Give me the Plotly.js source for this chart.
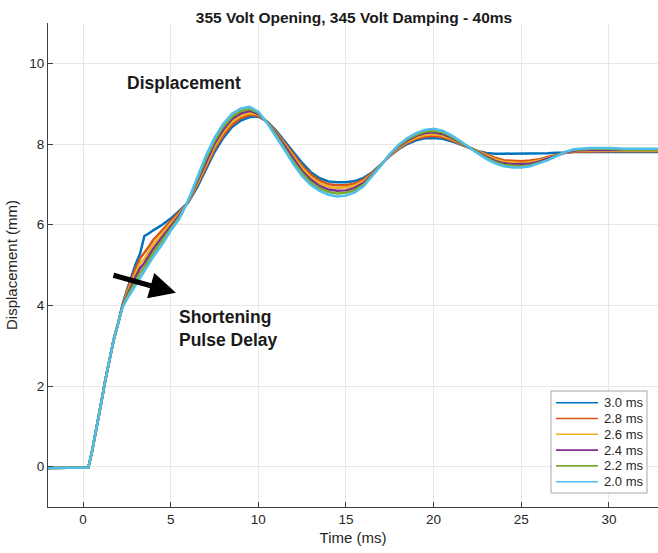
<!DOCTYPE html>
<html>
<head>
<meta charset="utf-8">
<script src="https://cdn.plot.ly/plotly-3.0.1.min.js"></script>
<style>html,body{margin:0;padding:0;background:#fff;}#chart{width:658px;height:553px;}</style>
</head>
<body>
<div id="chart"></div>
<script>
// ---- data ----
const timeMs = [-2,-1,0,0.3,0.5,0.75,1,1.25,1.5,1.75,2,2.25,2.5,2.75,3,3.25,3.5,3.75,4,4.5,5,5.5,6,6.5,7,7.5,8,8.5,9,9.5,10,10.5,11,11.5,12,12.5,13,13.5,14,14.5,15,15.5,16,16.5,17,17.5,18,18.5,19,19.5,20,20.5,21,21.5,22,22.5,23,23.5,24,24.5,25,25.5,26,26.5,27,27.5,28,29,30,31,32,33];
const riseCommon = [-0.03,-0.03,-0.03,-0.02,0.35,0.9,1.5,2.1,2.65,3.15,3.55];
const seriesNames = ['3.0 ms','2.8 ms','2.6 ms','2.4 ms','2.2 ms','2.0 ms'];
const seriesColors = ['#0072BD','#D95319','#EDB120','#7E2F8E','#77AC30','#4DBEEE'];
const disp30 = [4.02,4.38,4.72,5.02,5.28,5.72,5.78,5.86,5.99,6.15,6.35,6.55,6.92,7.35,7.8,8.15,8.42,8.58,8.67,8.68,8.56,8.34,8.07,7.8,7.53,7.3,7.15,7.07,7.05,7.05,7.08,7.16,7.3,7.5,7.7,7.87,8.0,8.09,8.14,8.15,8.13,8.07,7.99,7.9,7.83,7.78,7.76,7.76,7.76,7.76,7.76,7.76,7.77,7.78,7.78,7.8,7.8,7.8,7.8,7.8,7.8];
const disp28 = [4.0,4.33,4.64,4.92,5.16,5.3,5.45,5.62,5.86,6.09,6.31,6.56,6.97,7.42,7.87,8.22,8.48,8.64,8.72,8.7,8.55,8.31,8.03,7.74,7.46,7.24,7.09,7.0,6.98,6.98,7.02,7.12,7.28,7.49,7.71,7.89,8.03,8.13,8.18,8.2,8.17,8.1,8.01,7.9,7.82,7.75,7.66,7.6,7.58,7.57,7.59,7.62,7.68,7.73,7.78,7.81,7.82,7.82,7.82,7.82,7.82];
const disp26 = [3.99,4.29,4.56,4.81,5.04,5.15,5.33,5.5,5.76,6.03,6.27,6.57,7.01,7.49,7.94,8.29,8.55,8.7,8.77,8.73,8.54,8.28,7.98,7.68,7.4,7.17,7.03,6.94,6.91,6.92,6.97,7.08,7.26,7.49,7.72,7.91,8.06,8.16,8.22,8.24,8.21,8.13,8.03,7.91,7.81,7.72,7.62,7.56,7.54,7.53,7.55,7.59,7.65,7.72,7.79,7.83,7.84,7.84,7.83,7.83,7.83];
const disp24 = [3.98,4.24,4.49,4.71,4.92,5.05,5.22,5.4,5.68,5.97,6.23,6.58,7.06,7.56,8.01,8.36,8.62,8.76,8.82,8.75,8.54,8.26,7.94,7.62,7.33,7.11,6.96,6.87,6.84,6.85,6.91,7.03,7.24,7.48,7.73,7.94,8.09,8.2,8.27,8.29,8.25,8.16,8.04,7.91,7.79,7.69,7.58,7.52,7.5,7.5,7.51,7.56,7.63,7.71,7.79,7.84,7.86,7.86,7.85,7.85,7.85];
const disp22 = [3.96,4.2,4.41,4.6,4.8,4.95,5.12,5.3,5.6,5.91,6.19,6.59,7.1,7.63,8.08,8.43,8.68,8.82,8.87,8.78,8.53,8.23,7.89,7.56,7.27,7.04,6.9,6.81,6.77,6.79,6.86,6.99,7.22,7.48,7.74,7.96,8.12,8.23,8.31,8.33,8.29,8.19,8.06,7.92,7.78,7.66,7.55,7.48,7.46,7.45,7.47,7.53,7.6,7.7,7.8,7.86,7.88,7.88,7.86,7.86,7.86];
const disp20 = [3.95,4.15,4.33,4.5,4.68,4.85,5.02,5.2,5.5,5.85,6.15,6.6,7.15,7.7,8.15,8.5,8.75,8.88,8.92,8.8,8.52,8.2,7.85,7.5,7.2,6.98,6.84,6.74,6.7,6.72,6.8,6.95,7.2,7.47,7.75,7.98,8.15,8.27,8.35,8.38,8.33,8.22,8.08,7.92,7.77,7.63,7.52,7.45,7.42,7.42,7.45,7.52,7.6,7.7,7.8,7.87,7.9,7.9,7.88,7.88,7.88];
const xTicks = [0,5,10,15,20,25,30];
const yTicks = [0,2,4,6,8,10];

// ---- layout constants (pixels) ----
const W = 658, H = 553;
const M = {l:48, r:0, t:23, b:46};
const plotW = W - M.l - M.r, plotH = H - M.t - M.b;
const px2x = px => (px - M.l) / plotW;
const py2y = py => (H - M.b - py) / plotH;
const FONT = 'Liberation Sans, Arial, Helvetica, sans-serif';
const TXT = '#262626';

const tails = [disp30, disp28, disp26, disp24, disp22, disp20];
const traces = tails.map((tail, i) => ({
  type: 'scatter', mode: 'lines',
  x: timeMs, y: riseCommon.concat(tail),
  name: seriesNames[i],
  line: {color: seriesColors[i], width: 2.5},
  showlegend: false, hoverinfo: 'skip'
}));

// custom legend (MATLAB-like compact box)
const shapes = [];
const annotations = [];
const lg = {x0:551, x1:647, y0:391, y1:493, row0:402.7, dy:15.8, lx0:556, lx1:598, tx:602};
shapes.push({type:'rect', xref:'paper', yref:'paper', x0:px2x(lg.x0), x1:px2x(lg.x1), y0:py2y(lg.y1), y1:py2y(lg.y0),
  line:{color:'#a6a6a6', width:1}, fillcolor:'#ffffff', layer:'above'});
seriesNames.forEach((nm, i) => {
  const yy = py2y(lg.row0 + i*lg.dy);
  shapes.push({type:'line', xref:'paper', yref:'paper', x0:px2x(lg.lx0), x1:px2x(lg.lx1), y0:yy, y1:yy,
    line:{color:seriesColors[i], width:1.6}, layer:'above'});
  annotations.push({xref:'paper', yref:'paper', x:px2x(lg.tx), y:yy, xanchor:'left', yanchor:'middle',
    text:nm, showarrow:false, font:{family:FONT, size:13, color:TXT}});
});

annotations.push({xref:'x', yref:'y', x:5.75, y:9.52, text:'<b>Displacement</b>', showarrow:false,
  xanchor:'center', yanchor:'middle', font:{family:FONT, size:17.5, color:'#1a1a1a'}});
annotations.push({xref:'x', yref:'y', x:5.35, y:3.43, text:'<b>Shortening<br>Pulse Delay</b>', showarrow:false,
  xanchor:'left', yanchor:'middle', align:'left', font:{family:FONT, size:17.5, color:'#1a1a1a'}});
annotations.push({xref:'x', yref:'y', x:5.3, y:4.31, ax:-64, ay:-18, text:'', showarrow:true,
  arrowhead:2, arrowsize:1.05, arrowwidth:5, arrowcolor:'#000000', standoff:0});

const axisCommon = {
  showline:true, linecolor:'#404040', linewidth:1, mirror:false,
  ticks:'inside', ticklen:5, tickcolor:'#404040', tickwidth:1,
  showgrid:true, gridcolor:'#e8e8e8', gridwidth:1, zeroline:false,
  tickfont:{family:FONT, size:13.5, color:TXT}
};

const layout = {
  width:W, height:H, margin:M,
  paper_bgcolor:'#ffffff', plot_bgcolor:'#ffffff',
  title:{text:'<b>355 Volt Opening, 345 Volt Damping - 40ms</b>', font:{family:FONT, size:15.5, color:'#1a1a1a'},
    x:354 / W, xanchor:'center', y:1 - 18/H, yanchor:'middle'},
  xaxis:Object.assign({}, axisCommon, {range:[-2, 32.8], tickvals:xTicks,
    title:{text:'Time (ms)', font:{family:FONT, size:15, color:TXT}, standoff:6}}),
  yaxis:Object.assign({}, axisCommon, {range:[-1, 11], tickvals:yTicks,
    title:{text:'Displacement (mm)', font:{family:FONT, size:15, color:TXT}, standoff:8}}),
  shapes:shapes, annotations:annotations, showlegend:false
};

Plotly.newPlot('chart', traces, layout, {displayModeBar:false, staticPlot:true});
</script>
</body>
</html>
